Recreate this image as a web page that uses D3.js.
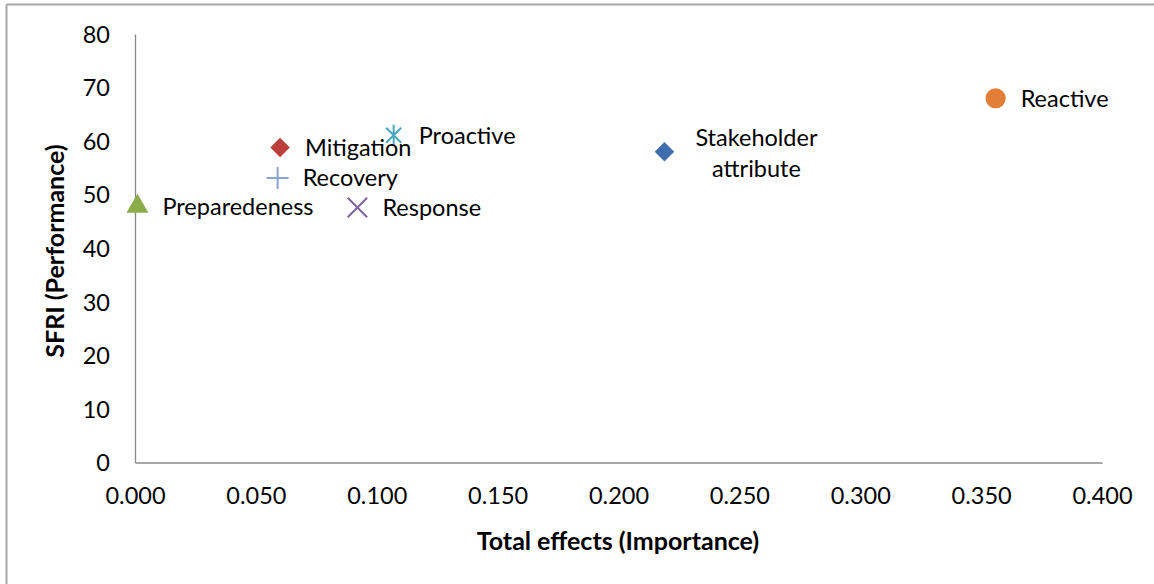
<!DOCTYPE html>
<html><head><meta charset="utf-8">
<script src="https://cdn.jsdelivr.net/npm/d3@7"></script>
<style>
html,body{margin:0;padding:0;background:#fff;}
svg text{font-family:"Lato","Open Sans",sans-serif;fill:#000;}
</style></head>
<body><svg id="chart" width="1154" height="584"></svg>
<script>
const names = ["Reactive","Stakeholder attribute","Mitigation","Proactive","Recovery","Preparedeness","Response"];
const importance = [0.356, 0.219, 0.060, 0.107, 0.059, 0.001, 0.092];
const performance = [68.0, 58.0, 58.8, 61.1, 53.1, 47.8, 47.6];
const symbols = ["circle","diamond","diamond","asterisk","plus","triangle","cross"];
const colors = ["#E27E37","#3F6EAE","#BC3F3B","#4AA7BE","#8AA5D3","#8AAD4A","#7E64A0"];
const xTicks = [0,0.05,0.1,0.15,0.2,0.25,0.3,0.35,0.4];
const yTicks = [0,10,20,30,40,50,60,70,80];

const FS = 23.5;
const svg = d3.select("#chart");
svg.append("line").attr("x1",6.5).attr("x2",1154).attr("y1",4.5).attr("y2",4.5).attr("stroke","#a6a6a6").attr("stroke-width",2);
svg.append("line").attr("x1",6.5).attr("x2",6.5).attr("y1",4.5).attr("y2",584).attr("stroke","#a6a6a6").attr("stroke-width",2);

const x = d3.scaleLinear().domain([0,0.4]).range([135,1102]);
const y = d3.scaleLinear().domain([0,80]).range([462.5,34]);

const xAxis = svg.append("g").attr("transform",`translate(0,${y(0)})`)
  .call(d3.axisBottom(x).tickValues(xTicks).tickFormat(d3.format(".3f")).tickSize(0).tickPadding(25));
const yAxis = svg.append("g").attr("transform",`translate(${x(0)},0)`)
  .call(d3.axisLeft(y).tickValues(yTicks).tickFormat(d3.format("d")).tickSize(0).tickPadding(25));
[xAxis,yAxis].forEach(a=>{
  a.select(".domain").attr("stroke","#888").attr("stroke-width",1.3);
  a.selectAll("text").attr("font-size",FS).attr("fill","#000").attr("font-family","Lato, 'Open Sans', sans-serif");
});
yAxis.selectAll("text").attr("dy","0.35em");

svg.append("text").attr("x",618).attr("y",550).attr("text-anchor","middle")
  .attr("font-size",25).attr("font-weight","bold").text("Total effects (Importance)");
svg.append("text").attr("transform","translate(64,251) rotate(-90)").attr("text-anchor","middle")
  .attr("font-size",25).attr("font-weight","bold").text("SFRI (Performance)");

const g = svg.append("g");
names.forEach((n,i)=>{
  const s = symbols[i];
  const cx = x(importance[i]), cy = y(performance[i]);
  const p = g.append("path").attr("transform",`translate(${cx},${cy})`);
  if (s==="circle") p.attr("d", d3.symbol(d3.symbolCircle, 320)()).attr("fill",colors[i]);
  else if (s==="diamond") p.attr("d", d3.symbol(d3.symbolSquare, 190)()).attr("transform",`translate(${cx},${cy}) rotate(45)`).attr("fill",colors[i]);
  else if (s==="triangle") p.attr("d", d3.symbol(d3.symbolTriangle, 210)()).attr("fill",colors[i]);
  else {
    const r = s==="plus" ? 11 : (s==="cross" ? 13.5 : 10.5);
    const path = d3.path();
    if (s==="plus" || s==="asterisk") { path.moveTo(0,-r); path.lineTo(0,r); }
    if (s==="plus") { path.moveTo(-r,0); path.lineTo(r,0); }
    if (s==="cross" || s==="asterisk") {
      const d = r*0.72;
      path.moveTo(-d,-d); path.lineTo(d,d); path.moveTo(-d,d); path.lineTo(d,-d);
    }
    p.attr("d", path.toString()).attr("fill","none").attr("stroke",colors[i]).attr("stroke-width", 2);
  }
});
names.forEach((n,i)=>{
  const cx = x(importance[i]), cy = y(performance[i]);
  if (n === "Stakeholder attribute") {
    const t = g.append("text").attr("text-anchor","middle").attr("font-size",FS);
    ["Stakeholder","attribute"].forEach((w,k)=>t.append("tspan").attr("x",cx+92).attr("y",cy-14+k*31).attr("dy","0.35em").text(w));
  } else {
    g.append("text").attr("x",cx+25).attr("y",cy+(n==="Proactive"?1:0)).attr("dy","0.35em")
      .attr("font-size",FS).text(n);
  }
});
</script></body></html>
